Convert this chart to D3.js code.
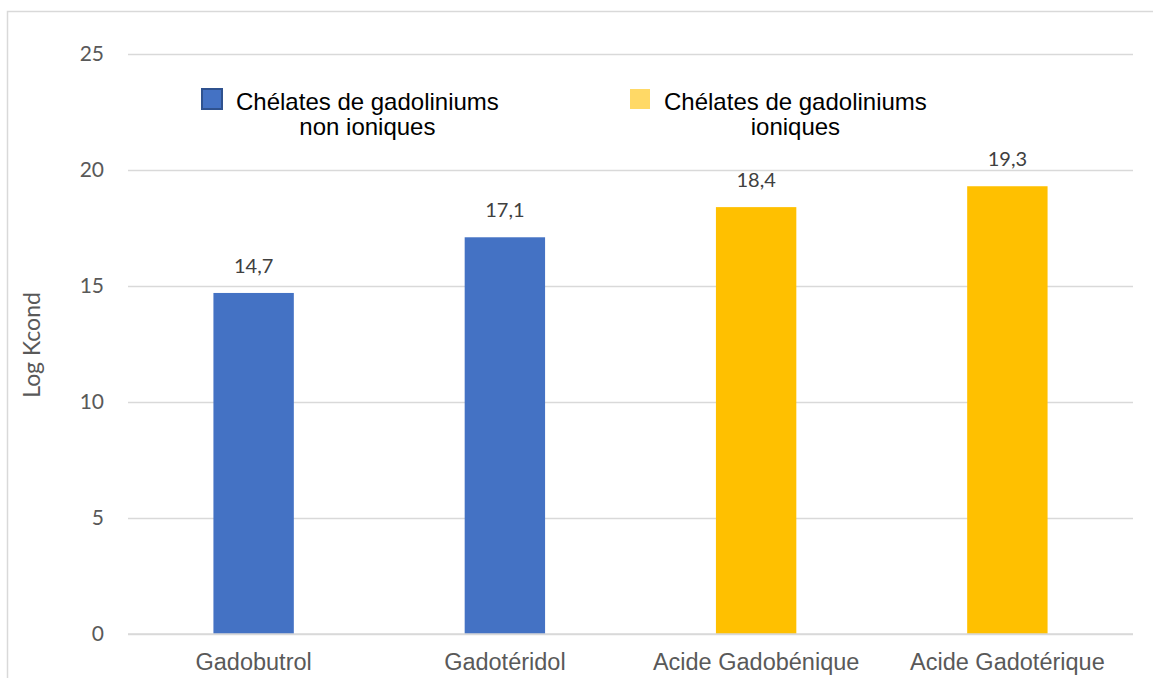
<!DOCTYPE html>
<html>
<head>
<meta charset="utf-8">
<script src="https://cdn.jsdelivr.net/npm/d3@7"></script>
<style>
  body { margin: 0; background: #fff; }
  svg { display: block; }
</style>
</head>
<body>
<div id="chart"></div>
<script>
  "use strict";

  /* <!-- Data --> */
  var categories = ["Gadobutrol", "Gadotéridol", "Acide Gadobénique", "Acide Gadotérique"];
  var values = [14.7, 17.1, 18.4, 19.3];
  var groups = ["non", "non", "ion", "ion"];
  var yTicks = [0, 5, 10, 15, 20, 25];
  var legendItems = [
    {key: "non", lines: ["Chélates de gadoliniums", "non ioniques"]},
    {key: "ion", lines: ["Chélates de gadoliniums", "ioniques"]}
  ];

  /* <!-- Colours --> */
  var barColor = {non: "#4472C4", ion: "#FFC000"};
  var legendFill = {non: "#4472C4", ion: "#FFD966"};
  var legendStroke = {non: "#2F528F", ion: "none"};

  var width = 1153, height = 678;
  var margin = {top: 54, right: 20, bottom: 44, left: 128};
  var plotRight = 1133;

  var svg = d3.select("#chart").append("svg")
    .attr("width", width).attr("height", height);

  /* <!-- Chart border --> */
  svg.append("rect")
    .attr("x", 7.5).attr("y", 11.5)
    .attr("width", width + 10).attr("height", height + 10)
    .attr("fill", "none").attr("stroke", "#d9d9d9").attr("stroke-width", 1.5);

  var x = d3.scaleBand()
    .domain(categories)
    .range([margin.left, plotRight])
    .paddingInner(0.68).paddingOuter(0.34);

  var y = d3.scaleLinear()
    .domain([0, 25])
    .range([634, 54]);

  /* <!-- Gridlines and y ticks --> */
  svg.append("g")
    .attr("transform", `translate(${margin.left},0)`)
    .call(d3.axisLeft(y).tickValues(yTicks).tickSize(-(plotRight - margin.left)).tickPadding(24))
    .call(g => g.select(".domain").remove())
    .call(g => g.selectAll(".tick line").attr("stroke", "#d9d9d9").attr("stroke-width", 1.3))
    .call(g => g.selectAll(".tick text")
      .attr("fill", "#595959").attr("font-family", "Lato, 'Open Sans', sans-serif")
      .attr("font-size", 21).attr("text-anchor", "end"));

  /* <!-- Bars --> */
  svg.selectAll("rect.bar")
    .data(values)
    .enter().append("rect")
    .attr("class", "bar")
    .attr("x", (d, i) => x(categories[i]))
    .attr("width", x.bandwidth())
    .attr("y", d => y(d))
    .attr("height", d => y(0) - y(d))
    .attr("fill", (d, i) => barColor[groups[i]]);

  /* <!-- Data labels --> */
  svg.selectAll("text.lbl")
    .data(values)
    .enter().append("text")
    .attr("class", "lbl")
    .attr("x", (d, i) => x(categories[i]) + x.bandwidth() / 2)
    .attr("y", d => y(d) - 20)
    .attr("text-anchor", "middle")
    .attr("fill", "#404040")
    .attr("font-family", "Lato, 'Open Sans', sans-serif")
    .attr("font-size", 20)
    .text(d => String(d).replace(".", ","));

  /* <!-- x axis labels --> */
  svg.append("g")
    .attr("transform", `translate(0,${y(0)})`)
    .call(d3.axisBottom(x).tickSize(0).tickPadding(19))
    .call(g => g.select(".domain").attr("stroke", "#d9d9d9").attr("stroke-width", 1.3)
      .attr("d", `M${margin.left},0H${plotRight}`))
    .call(g => g.selectAll(".tick text")
      .attr("fill", "#595959").attr("font-family", "'Liberation Sans', Arial, sans-serif")
      .attr("font-size", 23.5));

  /* <!-- y axis title --> */
  svg.append("text")
    .attr("transform", "translate(40,345) rotate(-90)")
    .attr("text-anchor", "middle")
    .attr("fill", "#595959")
    .attr("font-family", "Lato, 'Open Sans', sans-serif")
    .attr("font-size", 23)
    .text("Log Kcond");

  /* <!-- Legend --> */
  var legendX = [201, 629];
  var legend = svg.selectAll("g.legend")
    .data(legendItems)
    .enter().append("g")
    .attr("class", "legend")
    .attr("transform", (d, i) => `translate(${legendX[i]},88)`);

  legend.append("rect")
    .attr("x", 1).attr("y", 1).attr("width", 20).attr("height", 20)
    .attr("fill", d => legendFill[d.key])
    .attr("stroke", d => legendStroke[d.key]).attr("stroke-width", 2);

  legend.each(function(d) {
    var g = d3.select(this);
    var first = g.append("text")
      .attr("x", 35).attr("y", 22)
      .attr("font-family", "'Liberation Sans', Arial, sans-serif")
      .attr("font-size", 24).attr("fill", "#000")
      .text(d.lines[0]);
    var w = first.node().getComputedTextLength();
    g.append("text")
      .attr("x", 35 + w / 2).attr("y", 47)
      .attr("text-anchor", "middle")
      .attr("font-family", "'Liberation Sans', Arial, sans-serif")
      .attr("font-size", 24).attr("fill", "#000")
      .text(d.lines[1]);
  });
</script>
</body>
</html>
